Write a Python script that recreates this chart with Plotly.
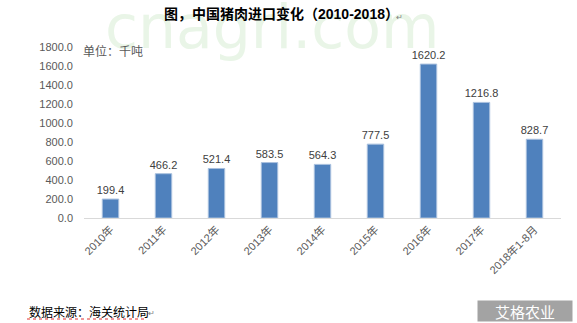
import plotly.graph_objects as go

# China pork imports by year, thousand tonnes
categories = ["2010年", "2011年", "2012年", "2013年", "2014年", "2015年", "2016年", "2017年", "2018年1-8月"]
imports = [199.4, 466.2, 521.4, 583.5, 564.3, 777.5, 1620.2, 1216.8, 828.7]
y_ticks = [0, 200, 400, 600, 800, 1000, 1200, 1400, 1600, 1800]

title_text = "图，中国猪肉进口变化（2010-2018）"
unit_text = "单位：千吨"
source_text = "数据来源：海关统计局"
site_mark = "cnagri.com"
logo_text = "艾格农业"

AXIS_GREY = "#595959"
CJK = "Noto Sans CJK SC"
LATIN = "Liberation Sans, Arial, sans-serif"

fig = go.Figure()
fig.add_trace(go.Bar(
    x=categories,
    y=imports,
    marker=dict(color="#4f81bd", line=dict(color="#a9c0de", width=1)),
    text=[f"{v:.1f}" for v in imports],
    textposition="outside",
    constraintext="none",
    textfont=dict(family=LATIN, size=11, color="#404040"),
    cliponaxis=False,
    width=0.31,
))

W, H = 577, 323
ml, mr, mt, mb = 84, 16, 47, 105
pw, ph = W - ml - mr, H - mt - mb

fig.update_layout(
    width=W,
    height=H,
    margin=dict(l=ml, r=mr, t=mt, b=mb),
    paper_bgcolor="white",
    plot_bgcolor="white",
    showlegend=False,
    font=dict(family=LATIN, color=AXIS_GREY),
    xaxis=dict(
        tickangle=-45,
        tickfont=dict(family=LATIN + ", " + CJK, size=11, color=AXIS_GREY),
        showline=True,
        linecolor="#d9d9d9",
        linewidth=1,
        ticks="",
        showgrid=False,
    ),
    yaxis=dict(
        range=[0, 1800],
        tickvals=y_ticks,
        ticktext=[f"{v:.1f}" for v in y_ticks],
        tickfont=dict(family=LATIN, size=11, color=AXIS_GREY),
        showgrid=False,
        zeroline=False,
        showline=False,
        ticks="",
        ticklabelstandoff=10,
    ),
)

annotations = [
    # faint site watermark behind the title
    dict(text=site_mark, x=272, y=27,
         font=dict(family="DejaVu Sans, sans-serif", size=60, color="#e9f5e7")),
    dict(text=f"<b>{title_text}</b>", x=281, y=14,
         font=dict(family="Liberation Sans, " + CJK, size=14, color="black")),
    dict(text="↵", x=399, y=17,
         font=dict(family=CJK, size=8, color="#808080")),
    dict(text=unit_text, x=81, y=50, xanchor="left",
         font=dict(family=CJK, size=12, color=AXIS_GREY)),
    dict(text=source_text, x=27, y=311, xanchor="left",
         font=dict(family=CJK, size=12, color="black")),
    dict(text="↵", x=151, y=312,
         font=dict(family=CJK, size=8, color="#808080")),
    # publisher badge in the bottom-right corner
    dict(text=logo_text, x=525, y=311,
         width=94, height=20, bgcolor="#a3a3a3", borderpad=0,
         font=dict(family=CJK, size=15, color="white")),
]

for a in annotations:
    px, py = a.pop("x"), a.pop("y")
    a["x"] = (px - ml) / pw
    a["y"] = (H - mb - py) / ph
    a["xref"] = "paper"
    a["yref"] = "paper"
    a["showarrow"] = False
    a.setdefault("xanchor", "center")
    a.setdefault("yanchor", "middle")
fig.update_layout(annotations=annotations)


def px_to_paper(x, y):
    return (x - ml) / pw, (H - mb - y) / ph


# wavy red underline under the source line
ux0, uy = px_to_paper(27, 319)
ux1, _ = px_to_paper(147, 319)
fig.add_shape(type="line", xref="paper", yref="paper", x0=ux0, y0=uy, x1=ux1, y1=uy,
              line=dict(color="#e03030", width=1, dash="dot"))

fig.write_html("out.html")
